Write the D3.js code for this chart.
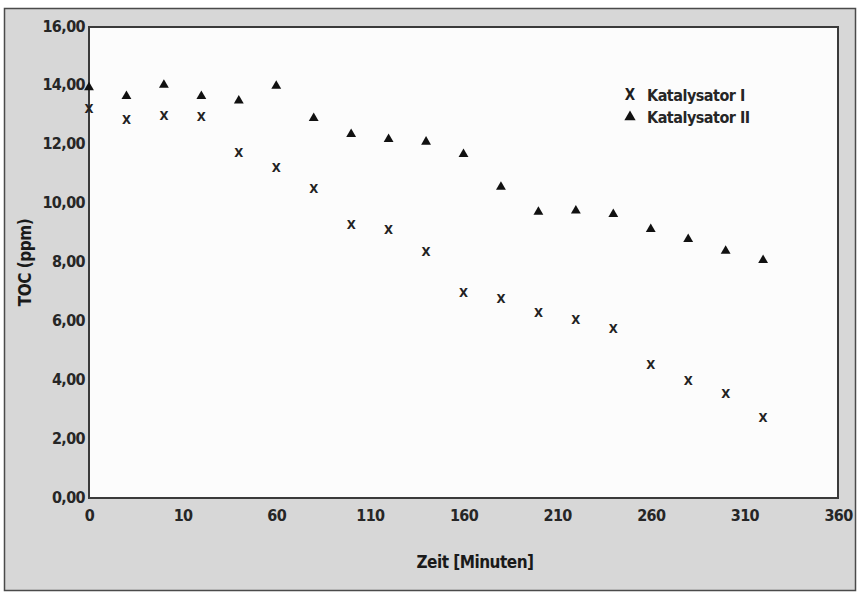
<!DOCTYPE html>
<html>
<head>
<meta charset="utf-8">
<script src="https://cdn.jsdelivr.net/npm/d3@7"></script>
<style>
  body { margin: 0; background: #fff; }
  text { font-family: "Liberation Sans Narrow", "Arial Narrow", "DejaVu Sans Condensed", sans-serif; }
</style>
</head>
<body>
<svg id="chart" width="858" height="593"></svg>
<script>
// data
var sampleNo = [0, 1, 2, 3, 4, 5, 6, 7, 8, 9, 10, 11, 12, 13, 14, 15, 16, 17, 18];
var katI  = [13.25, 12.87, 13.0, 12.98, 11.73, 11.22, 10.52, 9.3, 9.14, 8.37, 7.0, 6.8, 6.32, 6.07, 5.76, 4.54, 4.01, 3.56, 2.74];
var katII = [13.95, 13.65, 14.03, 13.65, 13.5, 14.0, 12.9, 12.36, 12.19, 12.1, 11.68, 10.57, 9.72, 9.76, 9.64, 9.13, 8.79, 8.39, 8.08];
var tickPos = [0, 2.5, 5, 7.5, 10, 12.5, 15, 17.5, 20];
var timeLabels = ["0", "10", "60", "110", "160", "210", "260", "310", "360"];
var yTicks = [0, 2, 4, 6, 8, 10, 12, 14, 16];
var seriesNames = ["Katalysator I", "Katalysator II"];

var margin = {top: 27, right: 20, bottom: 95, left: 89},
    width = 838 - margin.left,
    height = 498 - margin.top;

var de = d3.formatLocale({decimal: ",", thousands: ".", grouping: [3], currency: ["", " €"]});
var fmt = de.format(".2f");

var svg = d3.select("#chart");

// outer grey frame
svg.append("rect")
    .attr("x", 4.5).attr("y", 8.5)
    .attr("width", 851).attr("height", 582)
    .attr("fill", "#d7d7d7")
    .attr("stroke", "#4a4a4a")
    .attr("stroke-width", 1.5);

var g = svg.append("g").attr("transform", "translate(" + margin.left + "," + margin.top + ")");

var x = d3.scaleLinear().domain([0, 20]).range([0, width]);
var y = d3.scaleLinear().domain([0, 16]).range([height, 0]);

// plot area
g.append("rect")
    .attr("width", width).attr("height", height)
    .attr("fill", "#fcfcfc")
    .attr("stroke", "#3a3a3a")
    .attr("stroke-width", 2);

// axes
var xAxis = g.append("g")
    .attr("transform", "translate(0," + height + ")")
    .call(d3.axisBottom(x).tickValues(tickPos).tickSize(0).tickPadding(12)
      .tickFormat(function(d, i) { return timeLabels[i]; }));
xAxis.select(".domain").remove();
xAxis.selectAll("text").attr("font-size", 16).attr("font-weight", "bold").attr("letter-spacing", "-0.6px")
    .attr("fill", "#262626")
    .attr("font-family", "Liberation Sans Narrow, Arial Narrow, DejaVu Sans Condensed, sans-serif");

var yAxis = g.append("g")
    .call(d3.axisLeft(y).tickValues(yTicks).tickSize(0).tickPadding(4).tickFormat(fmt));
yAxis.select(".domain").remove();
yAxis.selectAll("text").attr("font-size", 16).attr("font-weight", "bold").attr("letter-spacing", "-0.6px")
    .attr("fill", "#262626").attr("dy", "0.25em")
    .attr("font-family", "Liberation Sans Narrow, Arial Narrow, DejaVu Sans Condensed, sans-serif");

// axis titles
svg.append("text")
    .attr("transform", "translate(31," + (margin.top + height / 2) + ") rotate(-90)")
    .attr("text-anchor", "middle")
    .attr("font-size", 17).attr("font-weight", "bold").attr("letter-spacing", "-0.5px").attr("fill", "#1a1a1a")
    .text("TOC (ppm)");

svg.append("text")
    .attr("x", 475).attr("y", 568)
    .attr("text-anchor", "middle")
    .attr("font-size", 17).attr("font-weight", "bold").attr("letter-spacing", "-0.5px").attr("fill", "#1a1a1a")
    .text("Zeit [Minuten]");

// Katalysator II - triangles
var tri = d3.symbol().type(d3.symbolTriangle).size(42);
g.selectAll(".tri")
    .data(katII)
  .enter().append("path")
    .attr("class", "tri")
    .attr("d", tri)
    .attr("fill", "#111")
    .attr("transform", function(d, i) { return "translate(" + x(sampleNo[i]) + "," + y(d) + ")"; });

// Katalysator I - x glyphs
g.selectAll(".cross")
    .data(katI)
  .enter().append("text")
    .attr("class", "cross")
    .attr("x", function(d, i) { return x(sampleNo[i]); })
    .attr("y", function(d) { return y(d); })
    .attr("dy", "0.36em")
    .attr("text-anchor", "middle")
    .attr("font-size", 13).attr("font-weight", "bold").attr("fill", "#222")
    .text("X");

// legend
var legend = svg.append("g").attr("transform", "translate(630,95)");
legend.append("text")
    .attr("x", 0).attr("y", 0).attr("dy", "0.36em")
    .attr("text-anchor", "middle")
    .attr("font-size", 15).attr("font-weight", "bold").attr("fill", "#1e1e1e")
    .text("X");
legend.append("path")
    .attr("d", d3.symbol().type(d3.symbolTriangle).size(55))
    .attr("fill", "#111")
    .attr("transform", "translate(0,22)");
legend.selectAll(".lbl")
    .data(seriesNames)
  .enter().append("text")
    .attr("class", "lbl")
    .attr("x", 17)
    .attr("y", function(d, i) { return i * 22; })
    .attr("dy", "0.36em")
    .attr("font-size", 16).attr("font-weight", "bold").attr("letter-spacing", "-0.5px").attr("fill", "#262626")
    .text(function(d) { return d; });
</script>
</body>
</html>
